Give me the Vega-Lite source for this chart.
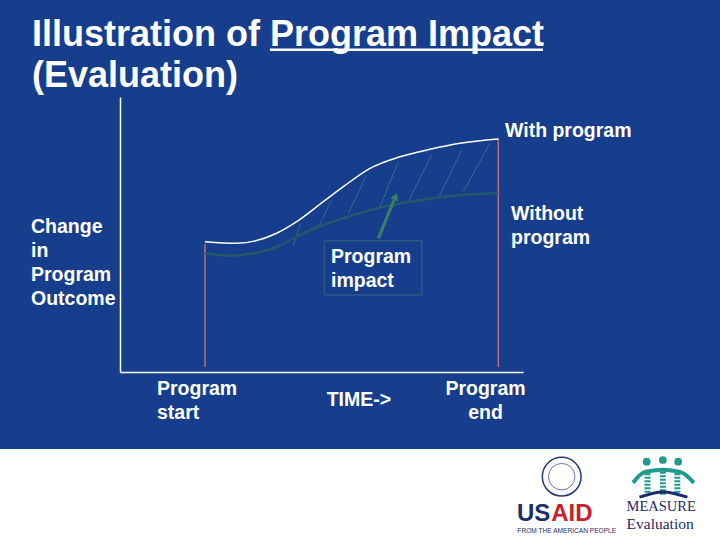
{
  "$schema": "https://vega.github.io/schema/vega-lite/v6.json",
  "width": 403,
  "height": 275,
  "autosize": {"type": "none"},
  "padding": {"left": 120, "top": 97, "right": 197, "bottom": 168},
  "background": "#163e8c",
  "config": {
    "view": {"stroke": null},
    "font": "Liberation Sans",
    "axis": {"grid": false, "ticks": false, "labels": false, "title": null, "domainColor": "#ffffff", "domainWidth": 1.5}
  },
  "datasets": {
    "band": [{"x": -30, "x2": 150, "y": -28, "y2": -62}],
    "curves": [
      {"series": "With program", "t": 21.09, "v": 47.38},
      {"series": "With program", "t": 28.96, "v": 46.8},
      {"series": "With program", "t": 38.88, "v": 50.44},
      {"series": "With program", "t": 43.85, "v": 54.65},
      {"series": "With program", "t": 50.45, "v": 61.93},
      {"series": "With program", "t": 55.41, "v": 67.38},
      {"series": "With program", "t": 62.03, "v": 74.07},
      {"series": "With program", "t": 69.48, "v": 78.29},
      {"series": "With program", "t": 76.92, "v": 80.98},
      {"series": "With program", "t": 84.37, "v": 83.16},
      {"series": "With program", "t": 93.87, "v": 84.73},
      {"series": "Without program", "t": 21.09, "v": 43.16},
      {"series": "Without program", "t": 27.3, "v": 42.29},
      {"series": "Without program", "t": 38.88, "v": 45.56},
      {"series": "Without program", "t": 47.15, "v": 51.64},
      {"series": "Without program", "t": 55.41, "v": 55.89},
      {"series": "Without program", "t": 63.7, "v": 59.53},
      {"series": "Without program", "t": 71.96, "v": 61.93},
      {"series": "Without program", "t": 80.22, "v": 63.75},
      {"series": "Without program", "t": 93.87, "v": 65.2}
    ],
    "hatch": [
      {"t": 43.0, "v": 46.2, "t2": 44.8, "v2": 54.1},
      {"t": 49.2, "v": 52.8, "t2": 52.5, "v2": 62.5},
      {"t": 56.7, "v": 57.7, "t2": 61.2, "v2": 71.6},
      {"t": 64.5, "v": 60.1, "t2": 69.1, "v2": 76.5},
      {"t": 71.5, "v": 61.9, "t2": 77.3, "v2": 78.9},
      {"t": 79.0, "v": 63.2, "t2": 84.8, "v2": 80.7},
      {"t": 85.2, "v": 65.6, "t2": 91.8, "v2": 83.2}
    ],
    "markers": [
      {"name": "Program start", "t": 21.09, "v": 1.8, "v2": 46.5},
      {"name": "Program end", "t": 93.87, "v": 1.8, "v2": 85.0}
    ],
    "box": [{"t": 50.7, "t2": 74.9, "v": 47.7, "v2": 28.0}],
    "arrow": [{"t": 64.1, "v": 48.6, "t2": 68.0, "v2": 62.5}],
    "arrowhead": [{"t": 68.4, "v": 63.8}],
    "title": [
      {"label": ["Illustration of Program Impact", "(Evaluation)"], "t": -21.84, "v": 118.5}
    ],
    "underline": [{"t": 37.2, "t2": 104.96, "v": 117.2}],
    "labels": [
      {"label": ["With program"], "t": 95.53, "v": 85.45},
      {"label": ["Without", "program"], "t": 97.02, "v": 55.27},
      {"label": ["Change", "in", "Program", "Outcome"], "t": -22.08, "v": 50.55},
      {"label": ["Program", "impact"], "t": 52.36, "v": 39.75},
      {"label": ["Program", "start"], "t": 9.18, "v": -8.36},
      {"label": ["TIME->"], "t": 51.29, "v": -12.36}
    ],
    "centered": [
      {"label": ["Program", "end"], "t": 90.7, "v": -8.36}
    ],
    "usaidUS": [{"label": "US", "t": 98.5, "v": -54.3}],
    "usaidAID": [{"label": "AID", "t": 107.0, "v": -54.3}],
    "usaidSub": [{"label": "FROM THE AMERICAN PEOPLE", "t": 98.6, "v": -58.6}],
    "seal": [{"t": 109.6, "v": -38.07}],
    "sealInner": [{"t": 109.6, "v": -38.07}],
    "measure": [
      {"label": "MEASURE", "t": 125.7, "v": -50.5, "size": 14.5},
      {"label": "Evaluation", "t": 125.7, "v": -57.2, "size": 15.5}
    ],
    "heads": [
      {"t": 130.7, "v": -32.6},
      {"t": 134.7, "v": -32.0},
      {"t": 138.5, "v": -32.6}
    ],
    "bodies": [
      {"t": 130.9, "v": -35.5, "v2": -44.5},
      {"t": 134.7, "v": -35.0, "v2": -44.8},
      {"t": 138.3, "v": -35.5, "v2": -44.5}
    ],
    "arms": [
      {"t": 127.3, "v": -40.3, "o": 1},
      {"t": 130.0, "v": -36.5, "o": 2},
      {"t": 134.7, "v": -35.5, "o": 3},
      {"t": 139.3, "v": -36.5, "o": 4},
      {"t": 142.4, "v": -40.3, "o": 5}
    ],
    "arc": [
      {"t": 128.9, "v": -45.5, "o": 1},
      {"t": 134.7, "v": -43.6, "o": 2},
      {"t": 140.8, "v": -45.5, "o": 3}
    ]
  },
  "encoding": {
    "x": {"field": "t", "type": "quantitative", "scale": {"domain": [0, 100], "nice": false, "zero": false}, "axis": {"orient": "bottom"}},
    "y": {"field": "v", "type": "quantitative", "scale": {"domain": [0, 100], "nice": false, "zero": false}, "axis": {"orient": "left"}}
  },
  "layer": [
    {
      "data": {"name": "band"},
      "mark": {"type": "rect", "color": "#ffffff"},
      "encoding": {
        "x": {"field": "x", "type": "quantitative"},
        "x2": {"field": "x2"},
        "y": {"field": "y", "type": "quantitative"},
        "y2": {"field": "y2"}
      }
    },
    {
      "data": {"name": "hatch"},
      "mark": {"type": "rule", "color": "#4a7a92", "strokeWidth": 1, "opacity": 0.7},
      "encoding": {"x2": {"field": "t2"}, "y2": {"field": "v2"}}
    },
    {
      "data": {"name": "markers"},
      "mark": {"type": "rule", "color": "#b4707f", "strokeWidth": 1.5},
      "encoding": {"y2": {"field": "v2"}}
    },
    {
      "data": {"name": "curves"},
      "mark": {"type": "line", "interpolate": "monotone"},
      "encoding": {
        "color": {"field": "series", "type": "nominal", "legend": null, "scale": {"domain": ["With program", "Without program"], "range": ["#ffffff", "#215a6c"]}},
        "strokeWidth": {"field": "series", "type": "nominal", "legend": null, "scale": {"domain": ["With program", "Without program"], "range": [1.5, 2.5]}}
      }
    },
    {
      "data": {"name": "box"},
      "mark": {"type": "rect", "fill": null, "stroke": "#34657c", "strokeWidth": 1},
      "encoding": {"x2": {"field": "t2"}, "y2": {"field": "v2"}}
    },
    {
      "data": {"name": "arrow"},
      "mark": {"type": "rule", "color": "#3a8069", "strokeWidth": 3},
      "encoding": {"x2": {"field": "t2"}, "y2": {"field": "v2"}}
    },
    {
      "data": {"name": "arrowhead"},
      "mark": {"type": "point", "shape": "triangle-up", "filled": true, "color": "#3a8069", "size": 70, "angle": 23, "opacity": 1},
      "encoding": {}
    },
    {
      "data": {"name": "title"},
      "mark": {"type": "text", "align": "left", "baseline": "alphabetic", "fontSize": 36, "fontWeight": "bold", "color": "#ffffff", "lineHeight": 41},
      "encoding": {"text": {"field": "label", "type": "nominal"}}
    },
    {
      "data": {"name": "underline"},
      "mark": {"type": "rule", "color": "#ffffff", "strokeWidth": 2.5},
      "encoding": {"x2": {"field": "t2"}}
    },
    {
      "data": {"name": "labels"},
      "mark": {"type": "text", "align": "left", "baseline": "alphabetic", "fontSize": 19.5, "fontWeight": "bold", "color": "#ffffff", "lineHeight": 24},
      "encoding": {"text": {"field": "label", "type": "nominal"}}
    },
    {
      "data": {"name": "centered"},
      "mark": {"type": "text", "align": "center", "baseline": "alphabetic", "fontSize": 19.5, "fontWeight": "bold", "color": "#ffffff", "lineHeight": 24},
      "encoding": {"text": {"field": "label", "type": "nominal"}}
    },
    {
      "data": {"name": "seal"},
      "mark": {"type": "point", "shape": "circle", "filled": false, "stroke": "#2a3a78", "strokeWidth": 1.5, "size": 1500, "opacity": 1},
      "encoding": {}
    },
    {
      "data": {"name": "sealInner"},
      "mark": {"type": "point", "shape": "circle", "filled": false, "stroke": "#6a74a8", "strokeWidth": 1, "size": 700, "opacity": 1},
      "encoding": {}
    },
    {
      "data": {"name": "usaidUS"},
      "mark": {"type": "text", "align": "left", "baseline": "alphabetic", "fontSize": 24, "fontWeight": 900, "color": "#1b2d6b"},
      "encoding": {"text": {"field": "label", "type": "nominal"}}
    },
    {
      "data": {"name": "usaidAID"},
      "mark": {"type": "text", "align": "left", "baseline": "alphabetic", "fontSize": 24, "fontWeight": 900, "color": "#c8202f"},
      "encoding": {"text": {"field": "label", "type": "nominal"}}
    },
    {
      "data": {"name": "usaidSub"},
      "mark": {"type": "text", "align": "left", "baseline": "alphabetic", "fontSize": 6.6, "color": "#1b2d6b"},
      "encoding": {"text": {"field": "label", "type": "nominal"}}
    },
    {
      "data": {"name": "measure"},
      "mark": {"type": "text", "align": "left", "baseline": "alphabetic", "font": "Liberation Serif", "color": "#1d2a6b"},
      "encoding": {
        "text": {"field": "label", "type": "nominal"},
        "size": {"field": "size", "type": "quantitative", "scale": null}
      }
    },
    {
      "data": {"name": "arms"},
      "mark": {"type": "line", "interpolate": "monotone", "color": "#1f9a8c", "strokeWidth": 4},
      "encoding": {"order": {"field": "o", "type": "quantitative"}}
    },
    {
      "data": {"name": "bodies"},
      "mark": {"type": "rule", "color": "#1f9a8c", "strokeWidth": 6, "strokeDash": [2, 1.5]},
      "encoding": {"y2": {"field": "v2"}}
    },
    {
      "data": {"name": "heads"},
      "mark": {"type": "point", "shape": "circle", "filled": true, "color": "#1f9a8c", "size": 60, "opacity": 1},
      "encoding": {}
    },
    {
      "data": {"name": "arc"},
      "mark": {"type": "line", "interpolate": "monotone", "color": "#1d2a6b", "strokeWidth": 3},
      "encoding": {"order": {"field": "o", "type": "quantitative"}}
    }
  ]
}
